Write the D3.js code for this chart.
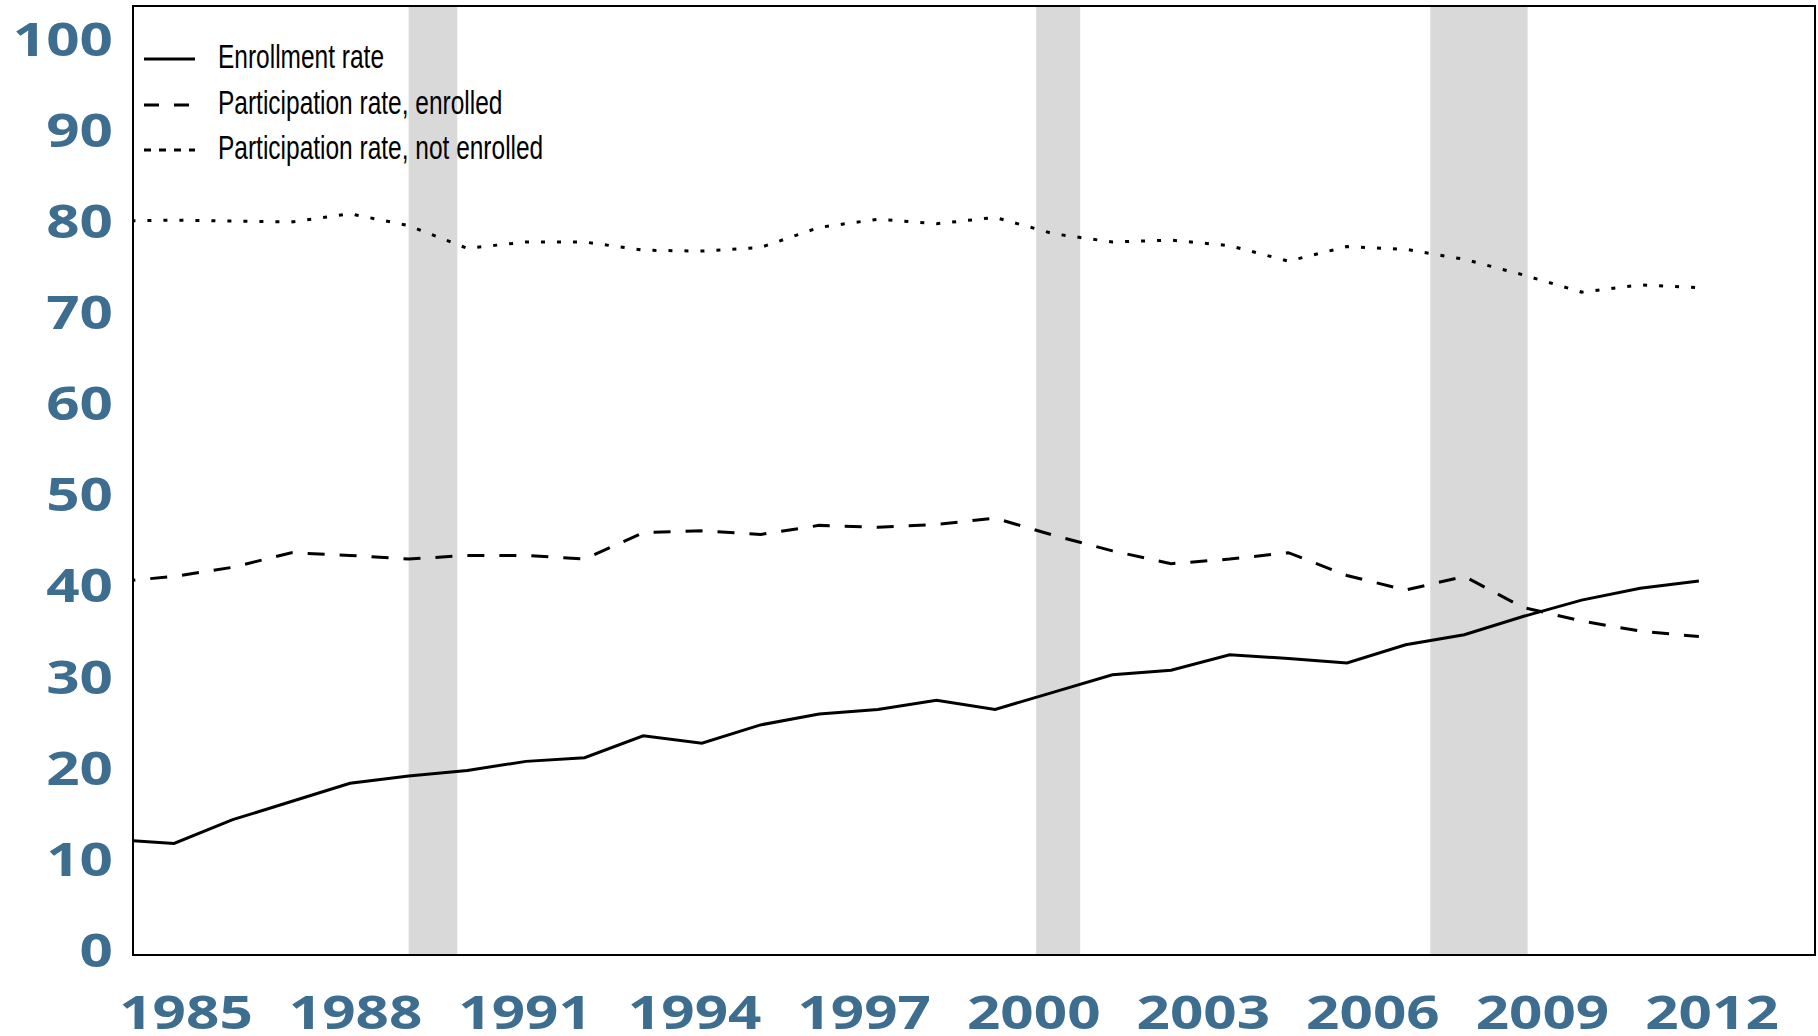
<!DOCTYPE html>
<html>
<head>
<meta charset="utf-8">
<script src="https://cdn.jsdelivr.net/npm/d3@7"></script>
<style>
  html, body { margin: 0; padding: 0; background: #fff; }
  svg { display: block; }
</style>
</head>
<body>
<div id="chart"></div>
<script>
// Data
const years = [1985, 1986, 1987, 1988, 1989, 1990, 1991, 1992, 1993, 1994,
  1995, 1996, 1997, 1998, 1999, 2000, 2001, 2002, 2003, 2004,
  2005, 2006, 2007, 2008, 2009, 2010, 2011, 2012];

const enrollmentRate = [12.1, 11.7, 14.3, 16.3, 18.3, 19.1, 19.7, 20.7, 21.1, 23.5,
  22.7, 24.7, 25.9, 26.4, 27.4, 26.4, 28.3, 30.2, 30.7, 32.4,
  32.0, 31.5, 33.5, 34.6, 36.6, 38.4, 39.7, 40.5];

const partEnrolled = [40.4, 41.0, 42.0, 43.6, 43.3, 42.9, 43.3, 43.3, 42.9, 45.8,
  46.0, 45.6, 46.6, 46.4, 46.7, 47.4, 45.5, 43.8, 42.4, 42.9,
  43.6, 41.1, 39.5, 41.0, 37.6, 36.1, 35.0, 34.4];

const partNotEnrolled = [80.0, 80.1, 80.0, 79.9, 80.8, 79.5, 77.0, 77.7, 77.7, 76.8,
  76.7, 77.1, 79.3, 80.2, 79.7, 80.4, 78.6, 77.7, 77.9, 77.3,
  75.6, 77.2, 76.9, 75.8, 74.1, 72.2, 73.0, 72.7];

// recession periods, decimal years
const recessionStart = [1990.5, 2001.2, 2007.92];
const recessionEnd = [1991.33, 2001.95, 2009.58];

const xTickYears = [1985, 1988, 1991, 1994, 1997, 2000, 2003, 2006, 2009, 2012];
const yTickValues = [0, 10, 20, 30, 40, 50, 60, 70, 80, 90, 100];

const seriesLabels = ["Enrollment rate", "Participation rate, enrolled", "Participation rate, not enrolled"];

document.addEventListener('DOMContentLoaded', function() {
  const W = 1818, H = 1036;
  const plot = { left: 133, top: 6, right: 1815, bottom: 955 };
  const labelBlue = "#3e6e8f";

  const svg = d3.select("#chart")
    .append("svg")
    .attr("width", W)
    .attr("height", H);

  svg.append("rect")
    .attr("width", W)
    .attr("height", H)
    .attr("fill", "#fff");

  // scales: data on decimal years (points at mid-year), labels on their own scale
  const x = d3.scaleLinear().domain([1985.8, 2014.48]).range([plot.left, plot.right]);
  const y = d3.scaleLinear().domain([-0.55, 103.6]).range([plot.bottom, plot.top]);
  const xLabel = d3.scaleLinear().domain([1985, 2012]).range([185.5, 1711.5]);

  svg.append("clipPath")
    .attr("id", "plot-clip")
    .append("rect")
    .attr("x", plot.left)
    .attr("y", plot.top)
    .attr("width", plot.right - plot.left)
    .attr("height", plot.bottom - plot.top);

  // recession shading
  svg.append("g")
    .selectAll("rect")
    .data(recessionStart.map((s, i) => [s, recessionEnd[i]]))
    .join("rect")
    .attr("x", d => x(d[0]))
    .attr("width", d => x(d[1]) - x(d[0]))
    .attr("y", plot.top)
    .attr("height", plot.bottom - plot.top)
    .attr("fill", "#d9d9d9");

  const series = [
    { label: seriesLabels[0], values: enrollmentRate, dash: null, offset: 0, legendDash: null, legendEnd: 195 },
    { label: seriesLabels[1], values: partEnrolled, dash: "17,15", offset: -3, legendDash: "15,15", legendEnd: 190 },
    { label: seriesLabels[2], values: partNotEnrolled, dash: "4,12", offset: 0, legendDash: "7,8", legendEnd: 195 }
  ];

  const line = d3.line()
    .x(d => x(d.year + 0.5))
    .y(d => y(d.value));

  const lines = svg.append("g").attr("clip-path", "url(#plot-clip)");
  series.forEach(s => {
    const data = years.map((yr, i) => ({ year: yr, value: s.values[i] }));
    lines.append("path")
      .datum(data)
      .attr("fill", "none")
      .attr("stroke", "#000")
      .attr("stroke-width", 3)
      .attr("stroke-dasharray", s.dash)
      .attr("stroke-dashoffset", s.offset)
      .attr("d", line);
  });

  // frame
  svg.append("rect")
    .attr("x", plot.left)
    .attr("y", plot.top)
    .attr("width", plot.right - plot.left)
    .attr("height", plot.bottom - plot.top)
    .attr("fill", "none")
    .attr("stroke", "#000")
    .attr("stroke-width", 2);

  // stretch a label horizontally by a factor
  function stretch(sel, factor) {
    sel.each(function() {
      const len = this.getComputedTextLength();
      d3.select(this)
        .attr("textLength", len * factor)
        .attr("lengthAdjust", "spacingAndGlyphs");
    });
  }

  // y axis
  const yAxis = svg.append("g")
    .attr("transform", "translate(113,0)")
    .call(d3.axisLeft(y).tickValues(yTickValues).tickSize(0).tickPadding(0));
  yAxis.select(".domain").remove();
  yAxis.selectAll("text")
    .attr("x", 0)
    .attr("dy", "0.357em")
    .attr("fill", labelBlue)
    .style("font-family", "'Open Sans', sans-serif")
    .style("font-weight", 700)
    .style("font-size", "46px")
    .call(stretch, 1.27);

  // x axis
  const xAxis = svg.append("g")
    .attr("transform", "translate(0,1029)")
    .call(d3.axisBottom(xLabel).tickValues(xTickYears).tickFormat(d3.format("d")).tickSize(0));
  xAxis.select(".domain").remove();
  xAxis.selectAll("text")
    .attr("y", 0)
    .attr("dy", 0)
    .attr("fill", labelBlue)
    .style("font-family", "'Open Sans', sans-serif")
    .style("font-weight", 700)
    .style("font-size", "46px")
    .call(stretch, 1.27);

  // legend
  const legendBaselines = [68, 114, 159];
  const legend = svg.append("g");
  series.forEach((s, i) => {
    const by = legendBaselines[i];
    legend.append("line")
      .attr("x1", 144)
      .attr("x2", s.legendEnd)
      .attr("y1", by - 9)
      .attr("y2", by - 9)
      .attr("stroke", "#000")
      .attr("stroke-width", 3)
      .attr("stroke-dasharray", s.legendDash);
    legend.append("text")
      .attr("x", 218)
      .attr("y", by)
      .attr("fill", "#000")
      .style("font-family", "'Liberation Sans', Arial, sans-serif")
      .style("font-size", "34px")
      .text(s.label)
      .call(stretch, 0.72);
  });
});
</script>
</body>
</html>
